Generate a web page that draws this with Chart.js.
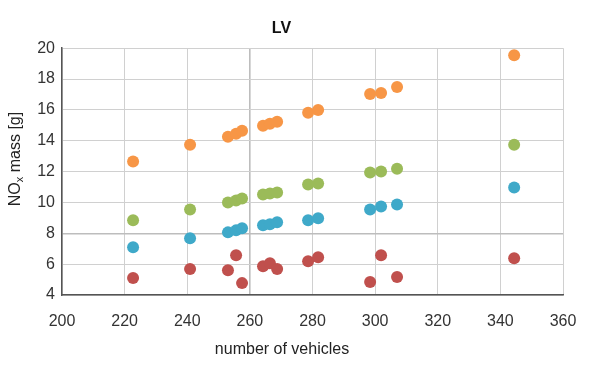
<!DOCTYPE html>
<html><head><meta charset="utf-8">
<script src="https://cdn.jsdelivr.net/npm/chart.js@4/dist/chart.umd.min.js"></script>
<style>html,body{margin:0;padding:0;background:#fff}#wrap{width:600px;height:365px}</style>
</head><body><div id="wrap"><canvas id="c"></canvas></div>
<script>
const vehicles = [222.7, 240.9, 253.0, 255.6, 257.5, 264.2, 266.4, 268.7, 278.6, 281.8, 298.4, 301.9, 307.0, 344.4];
const seriesOrange = [12.65, 13.74, 14.26, 14.45, 14.65, 14.97, 15.10, 15.23, 15.81, 16.0, 17.03, 17.10, 17.48, 19.55];
const seriesGreen = [8.84, 9.55, 10.0, 10.13, 10.26, 10.52, 10.58, 10.65, 11.16, 11.23, 11.94, 12.0, 12.19, 13.74];
const seriesBlue = [7.10, 7.68, 8.06, 8.19, 8.32, 8.52, 8.58, 8.71, 8.84, 8.97, 9.55, 9.74, 9.87, 10.97];
const seriesRed = [5.10, 5.68, 5.61, 6.58, 4.77, 5.87, 6.06, 5.68, 6.19, 6.45, 4.84, 6.58, 5.16, 6.39];
const xTicks = [200, 220, 240, 260, 280, 300, 320, 340, 360];
const yTicks = [4, 6, 8, 10, 12, 14, 16, 18, 20];

const FONT = '"Liberation Sans", Arial, sans-serif';
function pts(ys){ return vehicles.map((x,i)=>({x:x,y:ys[i]})); }
function ds(ys,color){ return {data:pts(ys),backgroundColor:color,borderColor:color,pointRadius:6,pointHoverRadius:6,borderWidth:0}; }

const labelsPlugin = {
  id:'labels',
  afterDraw(chart){
    const ctx = chart.ctx;
    ctx.save();
    ctx.fillStyle = '#222';
    ctx.font = '16px ' + FONT;
    ctx.textAlign = 'center';
    ctx.textBaseline = 'middle';
    ctx.fillText('number of vehicles', 282, 350);
    ctx.translate(16, 159);
    ctx.rotate(-Math.PI/2);
    const big = '16px ' + FONT, small = '11px ' + FONT;
    ctx.font = big; const w1 = ctx.measureText('NO').width;
    ctx.font = small; const w2 = ctx.measureText('x').width;
    ctx.font = big; const w3 = ctx.measureText(' mass [g]').width;
    let x0 = -(w1+w2+w3)/2;
    ctx.textAlign = 'left';
    ctx.font = big; ctx.fillText('NO', x0, 0);
    ctx.font = small; ctx.fillText('x', x0+w1, 4);
    ctx.font = big; ctx.fillText(' mass [g]', x0+w1+w2, 0);
    ctx.restore();
  }
};

new Chart(document.getElementById('c'), {
  type:'scatter',
  data:{datasets:[ds(seriesRed,'#C0504D'),ds(seriesBlue,'#3FA9C9'),ds(seriesGreen,'#9BBB59'),ds(seriesOrange,'#F79646')]},
  options:{
    responsive:true, maintainAspectRatio:false, animation:false,
    layout:{padding:{left:0,right:37,top:0,bottom:0}},
    plugins:{
      legend:{display:false}, tooltip:{enabled:false},
      title:{display:true,text:'LV',color:'#111',font:{family:FONT,size:16,weight:'bold'},padding:{top:19,bottom:10}}
    },
    scales:{
      x:{type:'linear',min:200,max:360,
        afterBuildTicks(s){ s.ticks = xTicks.map(v=>({value:v})); },
        afterFit(s){ s.height = 70; },
        grid:{color:(c)=>c.tick && c.tick.value===260 ? '#bdbdbd':'#d0d0d0',lineWidth:(c)=>c.tick && c.tick.value===260?1.6:1,drawTicks:false},
        border:{color:'#555',width:1.5},
        ticks:{color:'#333',font:{family:FONT,size:16},padding:17,maxRotation:0}
      },
      y:{type:'linear',min:4,max:20,
        afterBuildTicks(s){ s.ticks = yTicks.map(v=>({value:v})); },
        afterFit(s){ s.width = 62; },
        grid:{color:(c)=>c.tick && c.tick.value===8 ? '#bdbdbd':'#d0d0d0',lineWidth:(c)=>c.tick && c.tick.value===8?1.6:1,drawTicks:false},
        border:{color:'#555',width:1.5},
        ticks:{color:'#333',font:{family:FONT,size:16},padding:7}
      }
    }
  },
  plugins:[labelsPlugin]
});
</script></body></html>
